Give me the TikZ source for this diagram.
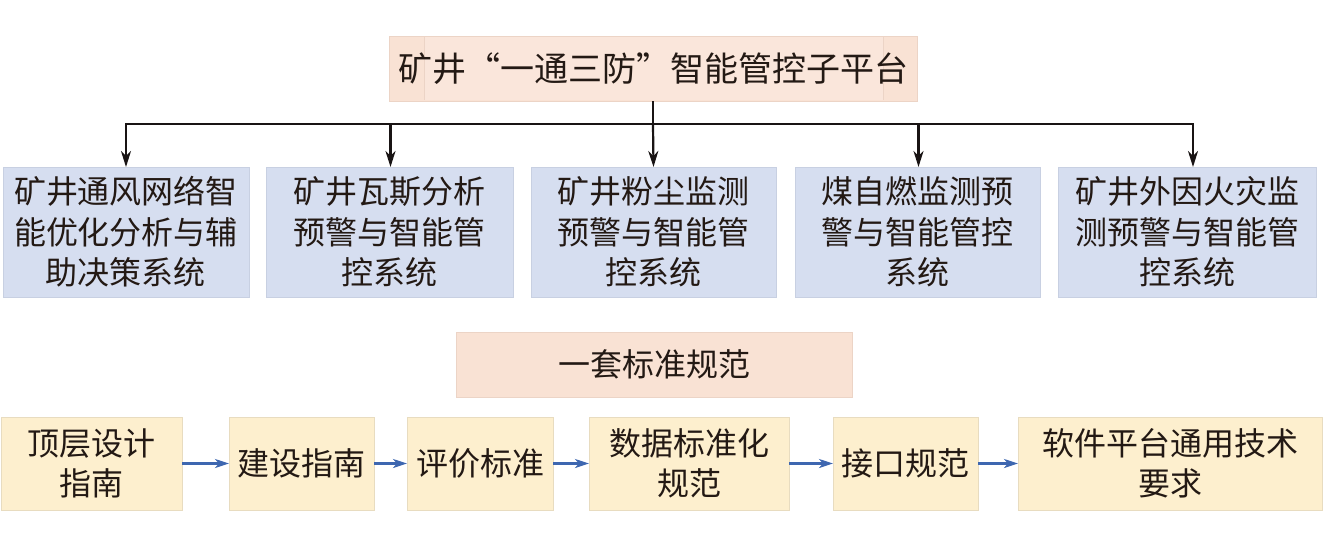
\documentclass[tikz,border=0pt]{standalone}
\usepackage{fontspec}
\newfontfamily\cjk{Noto Sans CJK SC}
\usetikzlibrary{arrows.meta,calc}
\definecolor{bluefill}{RGB}{214,222,240}
\definecolor{blueedge}{RGB}{200,208,226}
\definecolor{pinkfill}{RGB}{249,226,212}
\definecolor{pinkedge}{RGB}{236,212,198}
\definecolor{yelfill}{RGB}{253,239,206}
\definecolor{yeledge}{RGB}{232,220,192}
\definecolor{txt}{RGB}{35,25,20}
\definecolor{arrblue}{RGB}{62,103,176}
\definecolor{arrblack}{RGB}{25,20,20}
\begin{document}
\begin{tikzpicture}[x=1pt,y=-1pt,
  box/.style={anchor=north west, inner sep=0pt, outer sep=0pt, line width=0.8pt,
    align=center, text=txt, font=\cjk\fontsize{32}{40.5}\selectfont},
  sysbox/.style={box, fill=bluefill, draw=blueedge, minimum height=130pt},
  stdbox/.style={box, fill=yelfill, draw=yeledge, minimum height=93pt},
  headbox/.style={box, fill=pinkfill, draw=pinkedge, minimum height=65pt},
  busline/.style={draw=arrblack, line width=2.2pt},
  downarr/.style={busline, -{Stealth[length=16pt,width=10pt,inset=5pt]}},
  nextarr/.style={draw=arrblue, line width=2.4pt, -{Stealth[length=14pt,width=9pt,inset=4pt]}}
]
\useasboundingbox (0,0) rectangle (1326,546);

% top header
\node[headbox, minimum width=528pt] (top) at (389,36) {};
\fill[pinkfill!85!white] (424,37) rectangle (883,100);
\draw[pinkedge, line width=0.6pt] (424,37) -- (424,100) (883,37) -- (883,100);
\node[font=\cjk\fontsize{34}{40}\selectfont, text=txt] (toptext) at (top.center) {矿井“一通三防”智能管控子平台};

% system boxes
\node[sysbox, minimum width=246pt] (b1) at (3,167) {矿井通风网络智\\能优化分析与辅\\助决策系统};
\node[sysbox, minimum width=247pt] (b2) at (266,167) {矿井瓦斯分析\\预警与智能管\\控系统};
\node[sysbox, minimum width=245pt] (b3) at (531,167) {矿井粉尘监测\\预警与智能管\\控系统};
\node[sysbox, minimum width=245pt] (b4) at (795,167) {煤自燃监测预\\警与智能管控\\系统};
\node[sysbox, minimum width=258pt] (b5) at (1058,167) {矿井外因火灾监\\测预警与智能管\\控系统};

% connectors
\draw[busline] (top.south) -- ++(0,23) coordinate (hub);
\draw[busline, line cap=rect] (b1.north |- hub) -- ([xshift=6pt]b5.north |- hub);
\draw[downarr] (b1.north |- hub) -- (b1.north);
\draw[downarr] ([xshift=1pt]b2.north |- hub) -- ([xshift=1pt]b2.north);
\draw[downarr] (hub) -- (b3.north);
\draw[downarr] ([xshift=1pt]b4.north |- hub) -- ([xshift=1pt]b4.north);
\draw[downarr] ([xshift=6pt]b5.north |- hub) -- ([xshift=6pt]b5.north);

% standards header
\node[headbox, minimum width=396pt] (std) at (456,332) {一套标准规范};

% standards row
\node[stdbox, minimum width=181pt] (c1) at (1,417) {顶层设计\\指南};
\node[stdbox, minimum width=145pt] (c2) at (229,417) {建设指南};
\node[stdbox, minimum width=146pt] (c3) at (407,417) {评价标准};
\node[stdbox, minimum width=200pt] (c4) at (589,417) {数据标准化\\规范};
\node[stdbox, minimum width=145pt] (c5) at (833,417) {接口规范};
\node[stdbox, minimum width=304pt] (c6) at (1018,417) {软件平台通用技术\\要求};

\draw[nextarr] (c1.east) -- (c2.west);
\draw[nextarr] (c2.east) -- (c3.west);
\draw[nextarr] (c3.east) -- (c4.west);
\draw[nextarr] (c4.east) -- (c5.west);
\draw[nextarr] (c5.east) -- (c6.west);
\end{tikzpicture}
\end{document}
